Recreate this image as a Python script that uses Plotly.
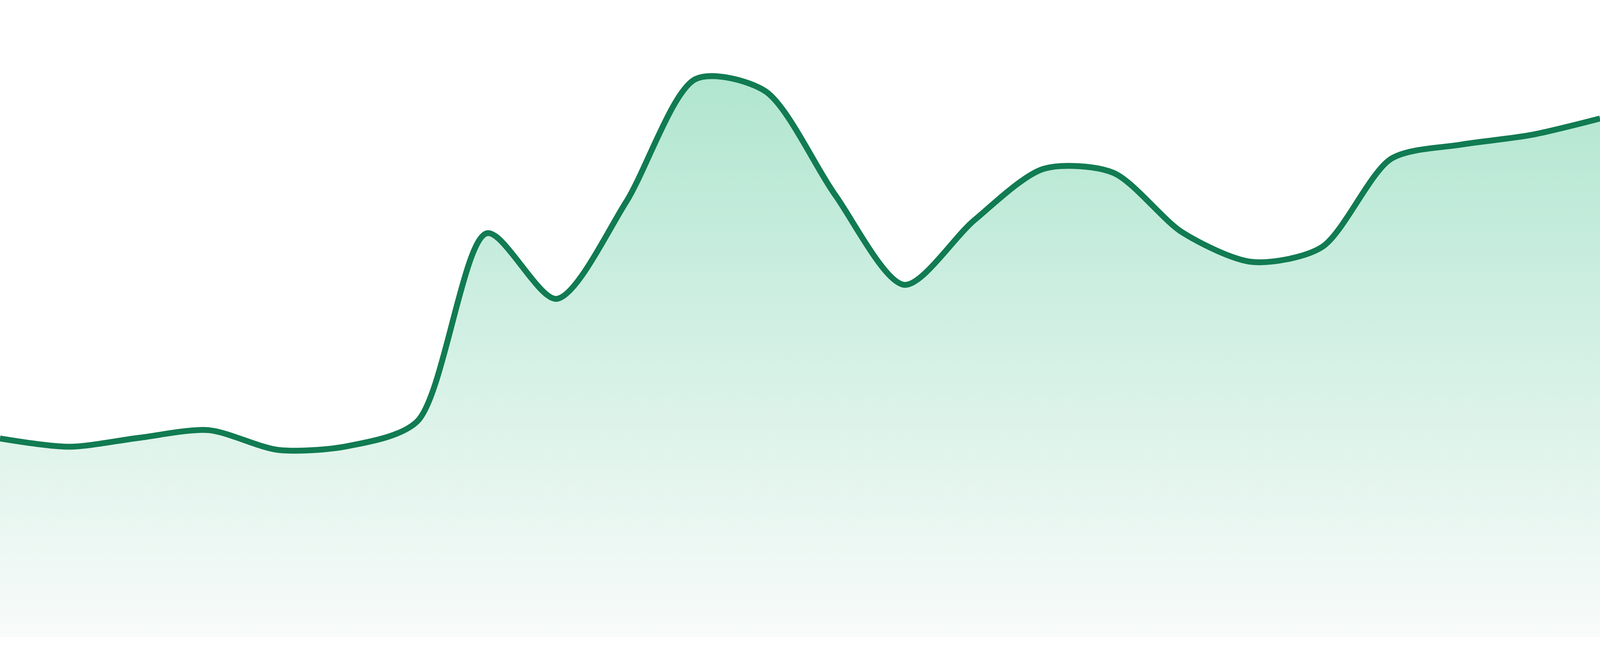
import plotly.graph_objects as go

# Data (24 evenly spaced observations)
index = list(range(24))
values = [31.2, 29.9, 31.3, 32.5, 29.4, 30.0, 33.9, 63.4, 53.1, 68.3,
          87.6, 85.7, 69.5, 55.3, 65.4, 73.5, 72.9, 63.5, 58.9, 61.2,
          75.1, 77.3, 78.8, 81.4]

LINE_COLOR = "rgb(17,123,82)"
FILL_TOP = "rgb(167,227,202)"
FILL_BOTTOM = "rgb(248,251,250)"

fig = go.Figure()
fig.add_trace(go.Scatter(
    x=index,
    y=values,
    mode="lines",
    line=dict(color=LINE_COLOR, width=15, shape="spline", smoothing=0.8),
    fill="tozeroy",
    fillgradient=dict(type="vertical", start=0, stop=100,
                      colorscale=[[0, FILL_BOTTOM], [1, FILL_TOP]]),
    hoverinfo="skip",
    showlegend=False,
))

fig.update_layout(
    autosize=True,
    margin=dict(l=0, r=0, t=0, b=0, pad=0),
    paper_bgcolor="white",
    plot_bgcolor="white",
    showlegend=False,
    xaxis=dict(range=[0, 23], visible=False, fixedrange=True, domain=[0, 1]),
    yaxis=dict(range=[0, 100], visible=False, fixedrange=True,
               domain=[48 / 1680, 1]),
)

fig.write_html(
    "out.html",
    default_width="100vw",
    default_height="100vh",
    config={"responsive": True, "displayModeBar": False},
    post_script=(
        "document.documentElement.style.margin='0';"
        "document.documentElement.style.overflow='hidden';"
        "document.body.style.margin='0';"
        "document.body.style.overflow='hidden';"
        "Plotly.Plots.resize(document.getElementById('{plot_id}'));"
    ),
)
